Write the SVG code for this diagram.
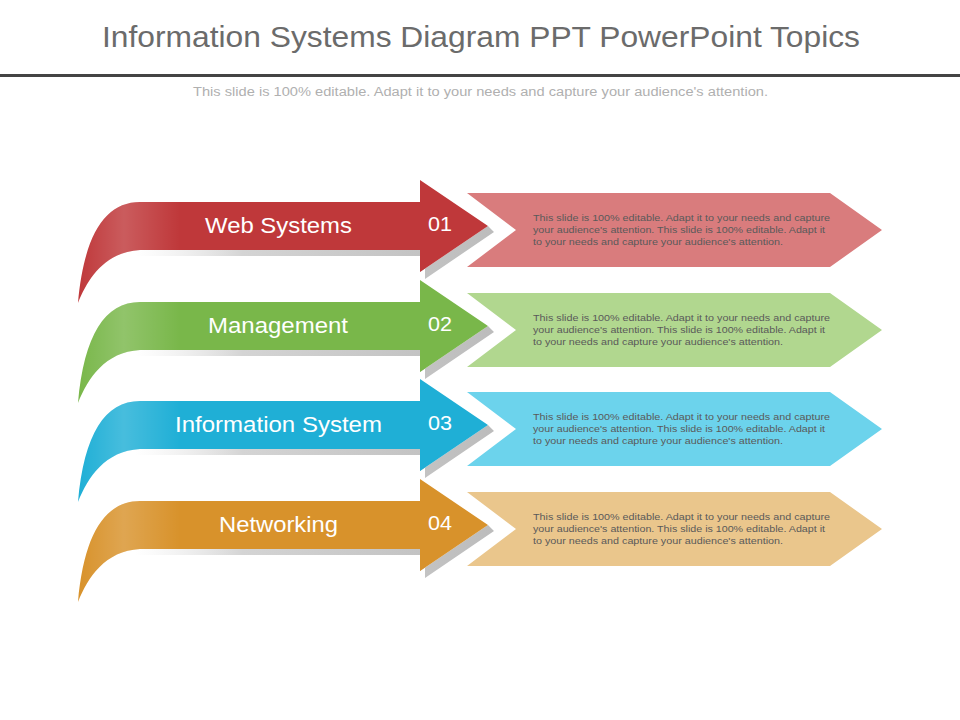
<svg xmlns="http://www.w3.org/2000/svg" width="960" height="720" viewBox="0 0 960 720">
<style>
.title{font-family:"Liberation Sans",Arial,sans-serif;font-size:30px;fill:#6b6b6b}
.sub{font-family:"Liberation Sans",Arial,sans-serif;font-size:12.5px;fill:#b0b0b0}
.lbl{font-family:"Liberation Sans",Arial,sans-serif;font-size:22px;fill:#ffffff}
.num{font-family:"Liberation Sans",Arial,sans-serif;font-size:20px;fill:#ffffff}
.desc{font-family:"Liberation Sans",Arial,sans-serif;font-size:9.5px;fill:#5a5a5a}
</style>
<defs>
<path id="ribbon" d="M 78 303 C 84 235, 105 202, 140 202 L 420 202 L 420 180 L 488 226 L 420 272 L 420 250 L 140 250 C 105 252, 88 278, 78 303 Z"/>
<path id="shadow" d="M 135 250 L 420 250 L 420 272 L 488 226 L 494 232 L 425 279 L 425 256 L 135 256 Z"/>
<path id="pent" d="M 467 193 L 830 193 L 882 230 L 830 267 L 467 267 L 516 230 Z"/>
<linearGradient id="sh" x1="0" y1="0" x2="1" y2="0">
<stop offset="0" stop-color="#e6e6e6" stop-opacity="0"/>
<stop offset="0.3" stop-color="#d4d4d4"/>
<stop offset="1" stop-color="#bcbcbc"/>
</linearGradient>
<linearGradient id="hl" x1="78" y1="0" x2="180" y2="0" gradientUnits="userSpaceOnUse">
<stop offset="0" stop-color="#ffffff" stop-opacity="0"/>
<stop offset="0.45" stop-color="#ffffff" stop-opacity="0.18"/>
<stop offset="1" stop-color="#ffffff" stop-opacity="0"/>
</linearGradient>
</defs>
<rect width="960" height="720" fill="#ffffff"/>
<text class="title" x="102" y="47" textLength="758" lengthAdjust="spacingAndGlyphs">Information Systems Diagram PPT PowerPoint Topics</text>
<rect x="0" y="74" width="960" height="3" fill="#444444"/>
<text class="sub" x="193" y="96" textLength="575" lengthAdjust="spacingAndGlyphs">This slide is 100% editable. Adapt it to your needs and capture your audience's attention.</text>

<g id="row1">
<use href="#pent" fill="#d97c7d"/>
<use href="#shadow" fill="url(#sh)"/>
<use href="#ribbon" fill="#bf383a"/>
<use href="#ribbon" fill="url(#hl)"/>
<text class="lbl" x="205" y="233" textLength="147" lengthAdjust="spacingAndGlyphs">Web Systems</text>
<text class="num" x="428" y="231" textLength="24" lengthAdjust="spacingAndGlyphs">01</text>
<text class="desc" x="533" y="221" textLength="297" lengthAdjust="spacingAndGlyphs">This slide is 100% editable.  Adapt it to your needs and capture</text>
<text class="desc" x="533" y="233" textLength="292" lengthAdjust="spacingAndGlyphs">your audience's attention. This slide is 100% editable.  Adapt it</text>
<text class="desc" x="533" y="245" textLength="250" lengthAdjust="spacingAndGlyphs">to your needs and capture your audience's attention.</text>
</g>
<g id="row2" transform="translate(0,100)">
<use href="#pent" fill="#b1d78f"/>
<use href="#shadow" fill="url(#sh)"/>
<use href="#ribbon" fill="#79b74a"/>
<use href="#ribbon" fill="url(#hl)"/>
<text class="lbl" x="208" y="233" textLength="140" lengthAdjust="spacingAndGlyphs">Management</text>
<text class="num" x="428" y="231" textLength="24" lengthAdjust="spacingAndGlyphs">02</text>
<text class="desc" x="533" y="221" textLength="297" lengthAdjust="spacingAndGlyphs">This slide is 100% editable.  Adapt it to your needs and capture</text>
<text class="desc" x="533" y="233" textLength="292" lengthAdjust="spacingAndGlyphs">your audience's attention. This slide is 100% editable.  Adapt it</text>
<text class="desc" x="533" y="245" textLength="250" lengthAdjust="spacingAndGlyphs">to your needs and capture your audience's attention.</text>
</g>
<g id="row3" transform="translate(0,199)">
<use href="#pent" fill="#6cd3ec"/>
<use href="#shadow" fill="url(#sh)"/>
<use href="#ribbon" fill="#1fafd6"/>
<use href="#ribbon" fill="url(#hl)"/>
<text class="lbl" x="175" y="233" textLength="207" lengthAdjust="spacingAndGlyphs">Information System</text>
<text class="num" x="428" y="231" textLength="24" lengthAdjust="spacingAndGlyphs">03</text>
<text class="desc" x="533" y="221" textLength="297" lengthAdjust="spacingAndGlyphs">This slide is 100% editable.  Adapt it to your needs and capture</text>
<text class="desc" x="533" y="233" textLength="292" lengthAdjust="spacingAndGlyphs">your audience's attention. This slide is 100% editable.  Adapt it</text>
<text class="desc" x="533" y="245" textLength="250" lengthAdjust="spacingAndGlyphs">to your needs and capture your audience's attention.</text>
</g>
<g id="row4" transform="translate(0,299)">
<use href="#pent" fill="#eac68c"/>
<use href="#shadow" fill="url(#sh)"/>
<use href="#ribbon" fill="#d8922b"/>
<use href="#ribbon" fill="url(#hl)"/>
<text class="lbl" x="219" y="233" textLength="119" lengthAdjust="spacingAndGlyphs">Networking</text>
<text class="num" x="428" y="231" textLength="24" lengthAdjust="spacingAndGlyphs">04</text>
<text class="desc" x="533" y="221" textLength="297" lengthAdjust="spacingAndGlyphs">This slide is 100% editable.  Adapt it to your needs and capture</text>
<text class="desc" x="533" y="233" textLength="292" lengthAdjust="spacingAndGlyphs">your audience's attention. This slide is 100% editable.  Adapt it</text>
<text class="desc" x="533" y="245" textLength="250" lengthAdjust="spacingAndGlyphs">to your needs and capture your audience's attention.</text>
</g>
<g id="connectors"></g>
</svg>
